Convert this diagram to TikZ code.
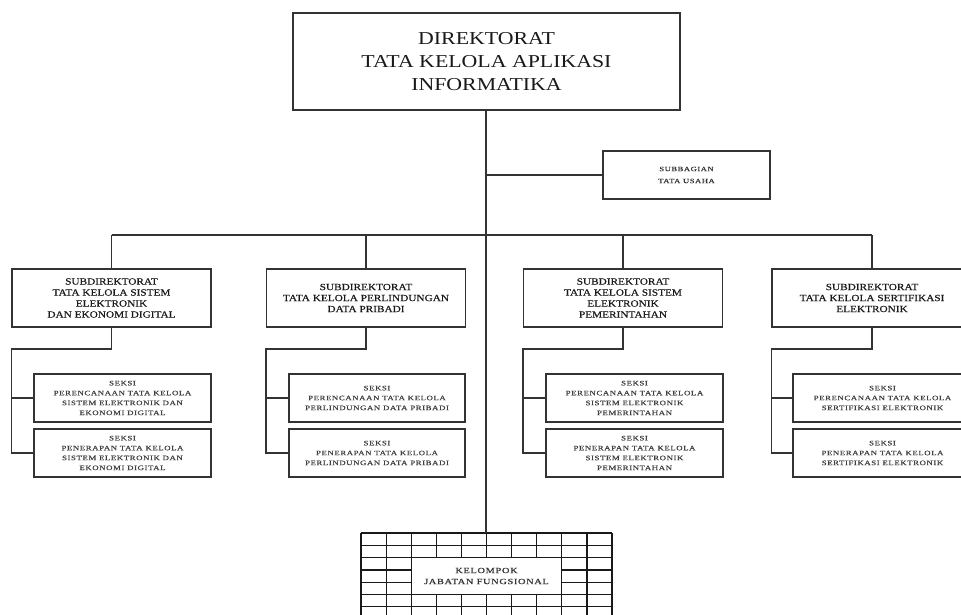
\documentclass[tikz,border=0pt]{standalone}
\usepackage{fontspec}
\setmainfont{Liberation Serif}[FakeStretch=1.2,FakeBold=0.4]
\newfontfamily\titlefont{Liberation Serif}[FakeStretch=1.2]
\newfontfamily\seksifont{Liberation Serif}[FakeStretch=1.3,LetterSpace=8,FakeBold=0.6]

\tikzset{
  unit/.style={draw=black!80, line width=1.2pt, fill=white, align=center,
    inner sep=0pt, text=black!90},
  titlebox/.style={unit, minimum width=387pt, minimum height=97pt,
    font=\titlefont\fontsize{18.2}{23}\selectfont},
  subdir/.style={unit, minimum width=199pt, minimum height=58pt,
    font=\fontsize{9.4}{11}\selectfont},
  seksi/.style={unit, minimum width=177pt, minimum height=48pt, text=black!75,
    font=\seksifont\fontsize{6.8}{9.9}\selectfont},
  smallbox/.style={unit, minimum width=167pt, minimum height=48pt, text=black!80,
    font=\seksifont\fontsize{6.6}{12}\selectfont},
  link/.style={draw=black!80, line width=1.2pt},
  gridline/.style={draw=black!90, line width=1.2pt}
}

\begin{document}
\begin{tikzpicture}[x=1pt, y=-1pt]
\useasboundingbox (0,0) rectangle (961,615);
\clip (0,0) rectangle (961,615);

% helper levels
\coordinate (bar) at (486,235);
\coordinate (elb) at (0,349);
\coordinate (gridtop) at (486,533);

% grid of the functional group (drawn first, the label box sits on top)
\foreach \i in {0,...,10}
  \draw[gridline] ({361+\i*25.1},533) -- ({361+\i*25.1},615);
\foreach \j in {0,...,7}
  \draw[gridline] (361,{533+\j*12.3}) -- (612,{533+\j*12.3});

% boxes
\node[titlebox] (dir) at (486.5,61.5) {DIREKTORAT\\TATA KELOLA APLIKASI\\INFORMATIKA};
\node[smallbox] (tu) at (686.5,175) {SUBBAGIAN\\TATA USAHA};

\node[subdir] (sd1) at (111.5,298) {SUBDIREKTORAT\\TATA KELOLA SISTEM\\ELEKTRONIK\\DAN EKONOMI DIGITAL};
\node[subdir] (sd2) at (366,298) {SUBDIREKTORAT\\TATA KELOLA PERLINDUNGAN\\DATA PRIBADI};
\node[subdir] (sd3) at (623,298) {SUBDIREKTORAT\\TATA KELOLA SISTEM\\ELEKTRONIK\\PEMERINTAHAN};
\node[subdir, minimum width=200pt] (sd4) at (872,298) {SUBDIREKTORAT\\TATA KELOLA SERTIFIKASI\\ELEKTRONIK};

\node[seksi] (s1a) at (122.5,398) {SEKSI\\PERENCANAAN TATA KELOLA\\SISTEM ELEKTRONIK DAN\\EKONOMI DIGITAL};
\node[seksi] (s1b) at (122.5,453) {SEKSI\\PENERAPAN TATA KELOLA\\SISTEM ELEKTRONIK DAN\\EKONOMI DIGITAL};
\node[seksi, minimum width=176pt] (s2a) at (377,398) {SEKSI\\PERENCANAAN TATA KELOLA\\PERLINDUNGAN DATA PRIBADI};
\node[seksi, minimum width=176pt] (s2b) at (377,453) {SEKSI\\PENERAPAN TATA KELOLA\\PERLINDUNGAN DATA PRIBADI};
\node[seksi] (s3a) at (634.5,398) {SEKSI\\PERENCANAAN TATA KELOLA\\SISTEM ELEKTRONIK\\PEMERINTAHAN};
\node[seksi] (s3b) at (634.5,453) {SEKSI\\PENERAPAN TATA KELOLA\\SISTEM ELEKTRONIK\\PEMERINTAHAN};
\node[seksi, minimum width=179pt] (s4a) at (882.5,398) {SEKSI\\PERENCANAAN TATA KELOLA\\SERTIFIKASI ELEKTRONIK};
\node[seksi, minimum width=179pt] (s4b) at (882.5,453) {SEKSI\\PENERAPAN TATA KELOLA\\SERTIFIKASI ELEKTRONIK};

\node[unit, draw=black!90, line width=1.2pt, minimum width=150.6pt, minimum height=36.9pt,
  text=black!80, font=\seksifont\fontsize{8}{11}\selectfont]
  (jf) at (486.5,576) {KELOMPOK\\JABATAN FUNGSIONAL};

% connectors
\draw[link] (dir.south -| gridtop) -- (gridtop);
\draw[link] (tu.west -| bar) -- (tu.west);
\draw[link] (sd1.north |- bar) -- (sd4.north |- bar);
\foreach \s in {sd1,sd2,sd3,sd4}
  \draw[link] (\s.north |- bar) -- (\s.north);

\foreach \s/\a/\b in {sd1/s1a/s1b, sd2/s2a/s2b, sd3/s3a/s3b, sd4/s4a/s4b} {
  \draw[link] (\s.south) -- (\s.south |- elb) -- (\s.west |- elb)
    -- (\s.west |- \b.west) -- (\b.west);
  \draw[link] (\s.west |- \a.west) -- (\a.west);
}
\end{tikzpicture}
\end{document}
